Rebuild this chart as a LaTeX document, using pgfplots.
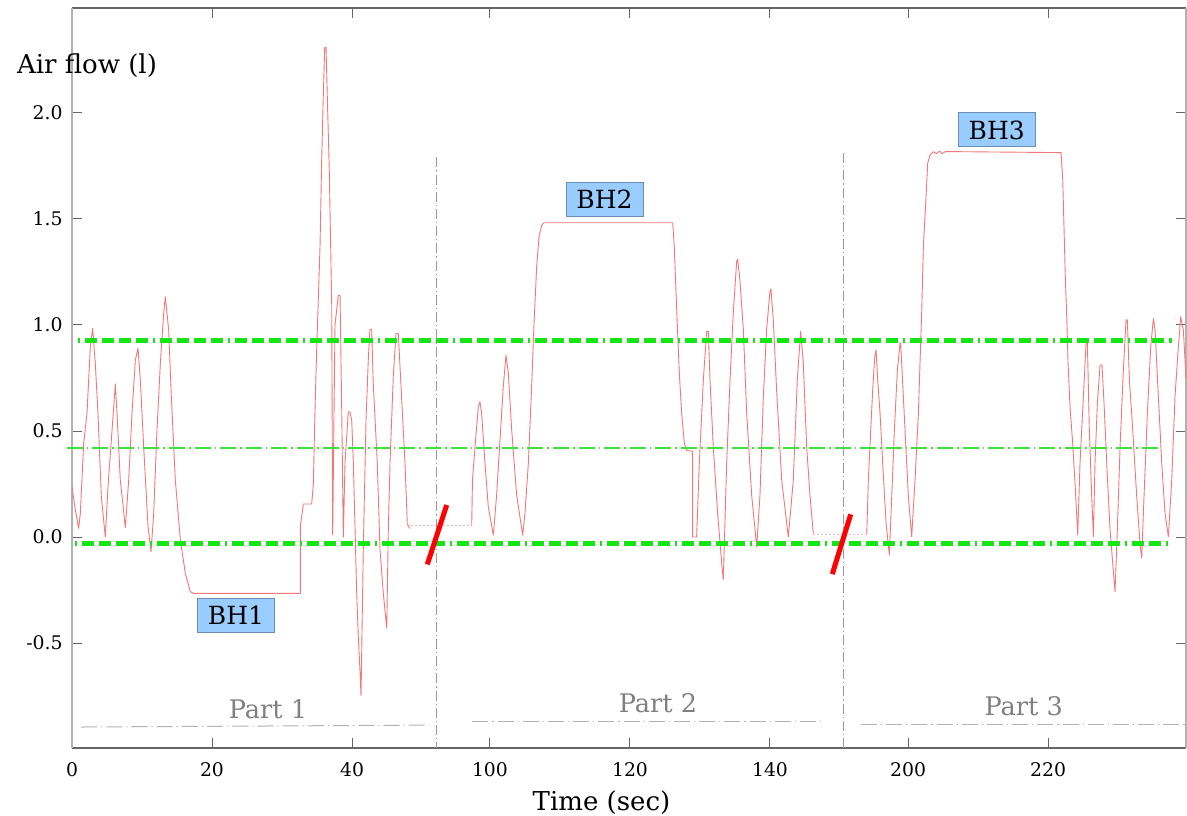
\documentclass[border=0pt]{standalone}
\usepackage{fontspec}
\setmainfont{DejaVu Serif}
\usepackage{pgfplots}
\usepackage{pgfplotstable}
\pgfplotsset{compat=1.18}

\definecolor{flow}{RGB}{240,120,120}
\definecolor{bandgreen}{RGB}{20,230,20}
\definecolor{meangreen}{RGB}{60,225,60}
\definecolor{bhfill}{RGB}{153,204,255}
\definecolor{bhdraw}{RGB}{110,140,180}
\definecolor{partgray}{RGB}{128,128,128}

% time (s) and air flow (l), one table per recorded part
\pgfplotstableread{
t f
0 0.237
0.48 0.127
0.95 0.041
1.19 0.112
1.67 0.442
2.14 0.583
2.62 0.898
2.95 0.984
3.33 0.819
3.71 0.583
4.19 0.190
4.76 0.000
5.14 0.237
5.62 0.457
6.19 0.722
6.43 0.583
6.90 0.269
7.62 0.045
8.10 0.269
8.57 0.583
9.05 0.835
9.43 0.890
9.76 0.741
10.24 0.426
10.86 0.049
11.29 -0.069
11.67 0.112
12.14 0.505
12.62 0.819
13.10 1.055
13.33 1.133
13.81 0.976
14.19 0.662
14.76 0.269
15.48 -0.014
16.19 -0.171
16.90 -0.258
17.38 -0.266
32.62 -0.266
32.62 0.049
33.05 0.156
34.24 0.156
34.47 0.245
34.71 0.593
34.95 0.879
35.43 1.370
35.67 1.780
35.90 2.080
36.10 2.310
36.29 2.310
36.47 2.080
36.76 1.720
37.10 1.100
37.24 0.010
37.57 1.000
38.04 1.140
38.29 1.140
38.53 0.600
38.76 0.000
39.00 0.350
39.47 0.590
39.71 0.590
39.96 0.550
40.19 0.350
40.67 -0.265
40.90 -0.470
41.14 -0.630
41.29 -0.748
41.61 -0.060
42.00 0.550
42.33 0.840
42.57 0.980
42.81 0.980
43.04 0.720
43.61 0.350
44.00 -0.060
44.47 -0.265
44.96 -0.430
45.19 0.040
45.43 0.350
45.90 0.760
46.29 0.960
46.61 0.960
47.10 0.650
47.57 0.350
47.90 0.060
48.29 0.040
}\partone

\pgfplotstableread{
t f
97.39 0.057
97.50 0.269
97.86 0.425
98.33 0.614
98.57 0.638
98.81 0.582
99.29 0.347
99.76 0.142
100.48 0.009
100.95 0.198
101.43 0.458
101.90 0.709
102.29 0.858
102.62 0.772
103.10 0.505
103.81 0.198
104.67 0.009
105.00 0.112
105.48 0.347
105.95 0.709
106.29 1.007
106.67 1.274
107.00 1.415
107.38 1.470
107.71 1.482
126.10 1.482
126.33 1.369
126.57 1.160
126.81 0.960
127.05 0.772
127.38 0.585
127.76 0.443
128.10 0.409
128.95 0.404
128.95 0.000
129.52 0.000
129.90 0.347
130.48 0.740
130.95 0.970
131.19 0.970
131.43 0.740
131.90 0.425
132.52 0.112
133.10 -0.124
133.33 -0.200
133.81 0.347
134.29 0.740
134.76 1.060
135.24 1.300
135.38 1.310
135.71 1.210
136.19 0.980
136.67 0.585
137.38 0.198
138.10 -0.046
138.57 0.198
139.05 0.660
139.52 0.980
140.00 1.160
140.14 1.170
140.48 1.020
140.95 0.690
141.67 0.269
142.62 0.000
143.33 0.269
143.90 0.740
144.38 0.970
144.76 0.820
145.24 0.425
145.71 0.198
146.19 0.016
}\parttwo

\pgfplotstableread{
t f
194.10 0.013
194.12 0.033
194.33 0.269
194.67 0.505
194.95 0.693
195.24 0.850
195.43 0.882
195.67 0.741
196.00 0.584
196.38 0.349
196.86 0.066
197.33 -0.085
197.67 0.190
198.05 0.505
198.48 0.788
198.86 0.914
198.95 0.914
199.14 0.788
199.57 0.505
200.05 0.190
200.52 0.002
201.00 0.269
201.48 0.584
201.71 0.820
201.95 1.055
202.19 1.370
202.57 1.605
202.81 1.763
203.14 1.802
203.62 1.817
204.05 1.808
204.48 1.820
204.90 1.808
205.33 1.818
221.86 1.813
222.10 1.684
222.29 1.450
222.48 1.212
222.67 1.040
222.86 0.819
223.14 0.615
223.52 0.442
223.86 0.253
224.24 0.009
224.57 0.349
225.05 0.663
225.43 0.914
225.62 0.914
225.90 0.505
226.24 0.190
226.48 0.002
226.71 0.349
227.05 0.631
227.43 0.811
227.71 0.811
228.00 0.631
228.38 0.349
228.86 0.033
229.24 -0.124
229.57 -0.258
229.90 0.033
230.29 0.426
230.76 0.788
231.14 1.024
231.33 1.024
231.62 0.741
232.10 0.505
232.67 0.190
233.14 -0.030
233.38 -0.100
233.71 0.190
234.19 0.584
234.67 0.899
235.05 1.031
235.29 0.977
235.76 0.663
236.24 0.349
236.71 0.113
237.19 0.002
237.67 0.269
238.14 0.663
238.62 0.899
238.95 1.039
239.33 0.977
239.71 0.750
}\partthree

\begin{document}
\begin{tikzpicture}
\begin{axis}[
    name=ax,
    scale only axis,
    width=557pt, height=370pt,
    xmin=0, xmax=159.14,
    ymin=-0.995, ymax=2.495,
    clip=false,
    separate axis lines,
    x axis line style={black!60, line width=0.6pt},
    y axis line style={black!30, line width=0.6pt},
    tick style={black!60, line width=0.5pt},
    major tick length=5pt,
    xtick={0,20,40,59.71,79.71,99.71,119.43,139.43},
    xticklabels={0,20,40,100,120,140,200,220},
    ytick={-0.5,0,0.5,1,1.5,2},
    yticklabels={-0.5,0.0,0.5,1.0,1.5,2.0},
    tick label style={font=\fontsize{9.4}{11}\selectfont},
    xticklabel style={yshift=-3.5pt},
    yticklabel style={xshift=-1.2pt},
]
% air flow trace, breaks at 52 s and 150 s
\addplot[flow, line width=0.45pt, line join=round] table[x=t, y=f] {\partone};
\addplot[flow, line width=0.45pt, line join=round] table[x expr=\thisrow{t}-40.29, y=f] {\parttwo};
\addplot[flow, line width=0.45pt, line join=round] table[x expr=\thisrow{t}-80.57, y=f] {\partthree};
\addplot[flow!55, line width=0.4pt, dash pattern=on 1pt off 1pt] coordinates {(48.4,0.057) (52.14,0.057) (57.1,0.057)};
\addplot[flow!55, line width=0.4pt, dash pattern=on 1pt off 1pt] coordinates {(105.9,0.013) (110.14,0.013) (113.5,0.013)};

% threshold lines
\addplot[meangreen, line width=0.8pt, dash pattern=on 8pt off 2pt on 0.8pt off 2pt] coordinates {(-0.76,0.421) (155.4,0.421)};
\addplot[bandgreen, line width=2.3pt, dash pattern=on 1pt off 2.5pt on 6pt off 2.5pt on 6pt off 2.5pt on 6pt off 2.5pt on 6pt off 2.5pt] coordinates {(0.86,0.926) (157.1,0.926)};
\addplot[bandgreen, line width=2.3pt, dash pattern=on 1pt off 2.5pt on 6pt off 2.5pt on 6pt off 2.5pt on 6pt off 2.5pt on 6pt off 2.5pt] coordinates {(0.43,-0.03) (156.6,-0.03)};

% part separators
\addplot[black!40, line width=0.5pt, dash pattern=on 5pt off 1.5pt on 0.6pt off 1.5pt] coordinates {(52.14,1.79) (52.14,-0.995)};
\addplot[black!40, line width=0.5pt, dash pattern=on 5pt off 1.5pt on 0.6pt off 1.5pt] coordinates {(110.14,1.81) (110.14,-0.995)};
\addplot[black!30, line width=0.5pt, dash pattern=on 8pt off 2pt on 0.6pt off 2pt] coordinates {(1.3,-0.896) (51,-0.887)};
\addplot[black!30, line width=0.5pt, dash pattern=on 8pt off 2pt on 0.6pt off 2pt] coordinates {(57.2,-0.871) (106.9,-0.871)};
\addplot[black!30, line width=0.5pt, dash pattern=on 8pt off 2pt on 0.6pt off 2pt] coordinates {(112.7,-0.882) (159.14,-0.882)};

% break marks
\addplot[red, line width=2.5pt] coordinates {(50.76,-0.129) (53.53,0.151)};
\addplot[red, line width=2.5pt] coordinates {(108.61,-0.175) (111.24,0.107)};

\node[anchor=base, font=\fontsize{12.8}{15}\selectfont, text=partgray] at (axis cs:28.0,-0.854) {Part 1};
\node[anchor=base, font=\fontsize{12.8}{15}\selectfont, text=partgray] at (axis cs:83.7,-0.829) {Part 2};
\node[anchor=base, font=\fontsize{12.8}{15}\selectfont, text=partgray] at (axis cs:135.96,-0.840) {Part 3};

\tikzset{bh/.style={fill=bhfill, draw=bhdraw, line width=0.5pt, minimum width=38.5pt, minimum height=17pt, inner sep=0pt, font=\fontsize{12.5}{15}\selectfont}}
\node[bh] at (axis cs:23.43,-0.368) {BH1};
\node[bh] at (axis cs:76.07,1.594) {BH2};
\node[bh] at (axis cs:132.1,1.92) {BH3};

\node[anchor=base west, font=\fontsize{13}{15}\selectfont] at (axis cs:-8.857,2.184) {Air flow (l)};
\node[anchor=base, font=\fontsize{13}{15}\selectfont] at (axis cs:75.64,-1.288) {Time (sec)};
\end{axis}
\pgfresetboundingbox
\path[use as bounding box] ([xshift=-36pt,yshift=-33.5pt]ax.south west) rectangle ([xshift=0.5pt,yshift=4pt]ax.north east);
\end{tikzpicture}
\end{document}
